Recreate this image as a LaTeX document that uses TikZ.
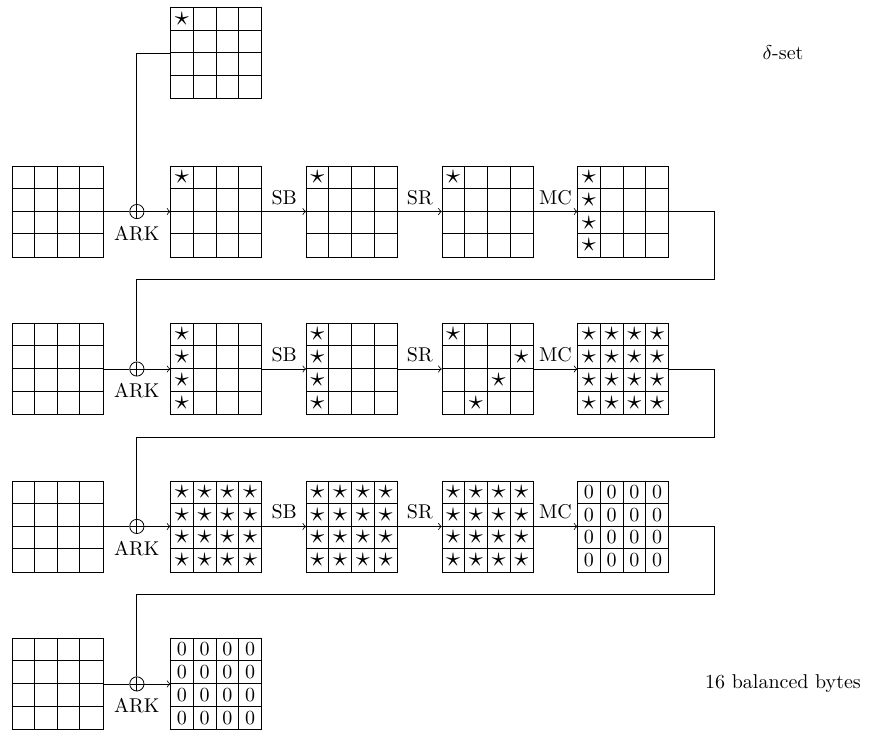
\documentclass[tikz,border=0pt]{standalone}
\usepackage{amsmath,amssymb}
\usepackage{tikz}
\usetikzlibrary{positioning,arrows,calc}
\tikzstyle{flow} = [->]

% inner lines of a 4x4 state
\newcommand{\gridlines}[1]{%
    \foreach \i in {1,2,3}{
        \draw (#1.north west) ++(0.4*\i,0) -- ++(0,-1.6);
        \draw (#1.north west) ++(0,-0.4*\i) -- ++(1.6,0);
    }}
% put a symbol in some cells (col/row)
\newcommand{\fillcells}[3]{%
    \foreach \c/\r in {#3}
        \node[cellmark] at ($(#1.north west)+(0.2+0.4*\c,-0.2-0.4*\r)$) {#2};}
\newcommand{\fillall}[2]{%
    \foreach \c in {0,...,3}
        \foreach \r in {0,...,3}
            \node[cellmark] at ($(#1.north west)+(0.2+0.4*\c,-0.2-0.4*\r)$) {#2};}
\newcommand{\act}{$\star$}

\begin{document}
\begin{tikzpicture}[
        node distance=1.155cm and 0.772cm,
        state/.style={
            rectangle,
            draw=black,
            minimum size=1.6cm,
            inner sep=0pt
        },
        xor/.style={
            circle,
            draw=black,
            minimum size=0.25cm,
            inner sep=0pt,
            path picture={
                \draw (path picture bounding box.north) -- (path picture bounding box.south)
                      (path picture bounding box.west) -- (path picture bounding box.east);
            }
        },
        cellmark/.style={inner sep=0pt},
        starmark/.style={inner sep=0pt, scale=1.4}
    ]
    \useasboundingbox (0,0) rectangle (15.30,-12.89);

    % round 1
    \node[state] (key1) at (1.01,-3.72) {};
    \node[state, right=1.18cm of key1] (in1) {};
    \node[state, right=of in1] (sb1) {};
    \node[state, right=of sb1] (sr1) {};
    \node[state, right=of sr1] (mc1) {};
    \node[state, above=1.17cm of in1] (dset) {};

    % round 2
    \node[state, below=of key1] (key2) {};
    \node[state, right=1.18cm of key2] (in2) {};
    \node[state, right=of in2] (sb2) {};
    \node[state, right=of sb2] (sr2) {};
    \node[state, right=of sr2] (mc2) {};

    % round 3
    \node[state, below=of key2] (key3) {};
    \node[state, right=1.18cm of key3] (in3) {};
    \node[state, right=of in3] (sb3) {};
    \node[state, right=of sb3] (sr3) {};
    \node[state, right=of sr3] (mc3) {};

    % last key addition
    \node[state, below=of key3] (key4) {};
    \node[state, right=1.18cm of key4] (in4) {};

    \foreach \s in {dset,key1,in1,sb1,sr1,mc1,key2,in2,sb2,sr2,mc2,
                    key3,in3,sb3,sr3,mc3,key4,in4}
        \gridlines{\s};

    \begin{scope}[cellmark/.style=starmark]
    \fillcells{dset}{\act}{0/0}
    \fillcells{in1}{\act}{0/0}
    \fillcells{sb1}{\act}{0/0}
    \fillcells{sr1}{\act}{0/0}
    \fillcells{mc1}{\act}{0/0,0/1,0/2,0/3}
    \fillcells{in2}{\act}{0/0,0/1,0/2,0/3}
    \fillcells{sb2}{\act}{0/0,0/1,0/2,0/3}
    \fillcells{sr2}{\act}{0/0,3/1,2/2,1/3}
    \fillall{mc2}{\act}
    \fillall{in3}{\act}
    \fillall{sb3}{\act}
    \fillall{sr3}{\act}
    \end{scope}
    \fillall{mc3}{0}
    \fillall{in4}{0}

    % key additions
    \foreach \n in {1,...,4}{
        \node[xor] (xor\n) at ($(key\n.east)!0.5!(in\n.west)$) {};
        \node[below=0pt of xor\n] (ark\n) {ARK};
        \draw (key\n) -- (xor\n);
        \draw[flow] (xor\n) -- (in\n);
    }
    \draw (dset.west) -| (xor1);

    % round functions
    \foreach \n in {1,2,3}{
        \draw[flow] (in\n) -- node[above]{SB} (sb\n);
        \draw[flow] (sb\n) -- node[above]{SR} (sr\n);
        \draw[flow] (sr\n) -- node[above]{MC} (mc\n);
    }

    % wrap to next row
    \foreach \n [evaluate=\n as \m using int(\n+1)] in {1,2,3}{
        \coordinate (turn\n) at ($(mc\n.east)+(0.8,-1.2)$);
        \draw (mc\n.east) -| (turn\n) -| (xor\m);
    }

    \node (deltaset) at (13.77,-0.92) {$\delta$-set};
    \node (balanced) at (13.77,-12.03) {16 balanced bytes};

\end{tikzpicture}
\end{document}
